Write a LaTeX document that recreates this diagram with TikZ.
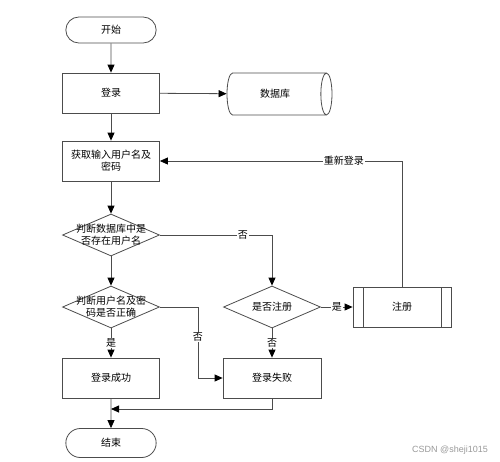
\documentclass[tikz,border=0pt]{standalone}
\usepackage{fontspec}
\setmainfont{Noto Sans CJK SC}
\newfontfamily\marksans{Liberation Sans}
\usetikzlibrary{arrows.meta}
\usetikzlibrary{shapes.geometric}
\usetikzlibrary{shapes.misc}
\definecolor{linegray}{rgb}{0.3, 0.3, 0.3}

\begin{document}
\begin{tikzpicture}[x=1pt, y=-1pt,
    every node/.style={font=\fontsize{10}{12}\selectfont},
    line/.style={draw=linegray, line width=0.8pt},
    flow/.style={line, -{Triangle[length=8pt, width=7pt, color=black]}},
    terminal/.style={line, rounded rectangle, minimum width=97pt, minimum height=26pt},
    box/.style={line, rectangle, minimum width=97pt, minimum height=40pt, align=center, inner sep=2pt},
    decision/.style={line, diamond, minimum width=97pt, minimum height=42pt, inner sep=0pt},
    dtext/.style={align=center, inner sep=0pt, font=\fontsize{10}{12}\selectfont},
    store/.style={line, cylinder, shape aspect=0.7, minimum width=42pt, minimum height=105pt},
    subproc/.style={box, path picture={
        \draw[linegray, line width=0.8pt] ([xshift=10pt]path picture bounding box.north west) -- ([xshift=10pt]path picture bounding box.south west);
        \draw[linegray, line width=0.8pt] ([xshift=-10pt]path picture bounding box.north east) -- ([xshift=-10pt]path picture bounding box.south east);}},
    lbl/.style={fill=white, inner sep=1pt}]
  \useasboundingbox (0, 0) rectangle (500, 461);

  % nodes
  \node [terminal] (start) at (111, 30) {开始};
  \node [box] (login) at (111, 93) {登录};
  \node [store] (db) at (275, 94) {数据库};
  \node [box] (input) at (111, 161) {获取输入用户名及\\密码};
  \node [decision, label={[dtext]center:判断数据库中是\\否存在用户名}] (hasuser) at (111, 235) {};
  \node [decision, label={[dtext]center:是否注册}] (askreg) at (272, 307) {};
  \node [subproc, minimum width=98pt] (reg) at (402, 307) {注册};
  \node [decision, label={[dtext]center:判断用户名及密\\码是否正确}] (checkpw) at (111, 307) {};
  \node [box] (ok) at (111, 378) {登录成功};
  \node [box, minimum width=98pt] (fail) at (272, 378) {登录失败};
  \node [terminal, minimum height=29pt] (stop) at (111, 443) {结束};
  \coordinate (merge) at (111, 409);

  % connectors
  \draw [flow] (start) -- (login);
  \draw [flow] (login) -- (db);
  \draw [flow] (login) -- (input);
  \draw [flow] (input) -- (hasuser);
  \draw [flow] (hasuser.east) -| node [lbl, pos=0.37] {否} (askreg.north);
  \draw [flow] (askreg.east) -- node [lbl] {是} (reg.west);
  \draw [flow] (reg.north) |- node [lbl, pos=0.62] {重新登录} (input.east);
  \draw [flow] (hasuser) -- (checkpw);
  \draw [flow] (checkpw) -- node [lbl] {是} (ok);
  \draw [flow] (askreg) -- node [lbl] {否} (fail);
  \draw [flow] (checkpw.east) -- ++(38, 0) |- node [lbl, pos=0.21] {否} (fail.west);
  \draw [flow] (ok) -- (stop);
  \draw [flow] (fail.south) |- (merge);

  \node [text=black!40, font=\marksans\fontsize{9}{10}\selectfont] (mark) at (450, 450) {CSDN @sheji1015};
\end{tikzpicture}
\end{document}
